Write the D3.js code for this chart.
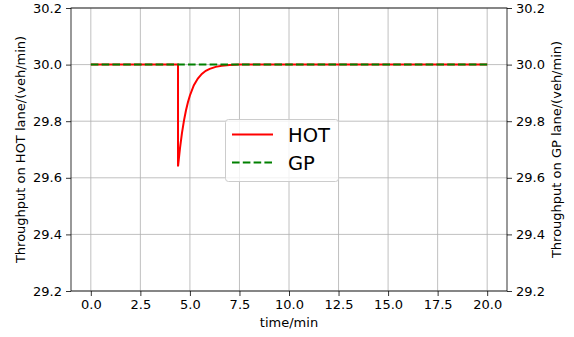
<!DOCTYPE html>
<html><head><meta charset="utf-8">
<script src="https://cdn.jsdelivr.net/npm/d3@7"></script>
<style>body{margin:0;background:#fff}svg{display:block}text{font-family:"DejaVu Sans",sans-serif}</style>
</head><body>
<script>
const xTicks = [0, 2.5, 5, 7.5, 10, 12.5, 15, 17.5, 20];
const yTicks = [29.2, 29.4, 29.6, 29.8, 30.0, 30.2];
const hotTime  = [0, 4.4, 4.4, 4.5, 4.6, 4.7, 4.8, 4.9, 5.0, 5.2, 5.4, 5.6, 5.8, 6.0, 6.3, 6.6, 7.0, 7.5, 20];
const hotValue = [30.0, 30.0, 29.64, 29.705, 29.759, 29.802, 29.838, 29.867, 29.891, 29.927, 29.951, 29.967, 29.978, 29.985, 29.992, 29.996, 29.999, 30.0, 30.0];
const gpTime  = [0, 20];
const gpValue = [30.0, 30.0];
const seriesNames = ["HOT", "GP"];

const W = 574, H = 337;
const L = 71, R = 507, T = 8, B = 291;
const svg = d3.select("body").append("svg").attr("width", W).attr("height", H);
const x = d3.scaleLinear().domain([-1, 21]).range([L, R]);
const y = d3.scaleLinear().domain([29.2, 30.2]).range([B, T]);
const fmt = d3.format(".1f");

// grid
const g = svg.append("g");
g.selectAll(".vx").data(xTicks).enter().append("line")
  .attr("x1", d => x(d)).attr("x2", d => x(d)).attr("y1", T).attr("y2", B)
  .attr("stroke", "#b0b0b0").attr("stroke-width", 0.8);
g.selectAll(".hy").data(yTicks).enter().append("line")
  .attr("x1", L).attr("x2", R).attr("y1", d => y(d)).attr("y2", d => y(d))
  .attr("stroke", "#b0b0b0").attr("stroke-width", 0.8);

// lines
const line = d3.line().x(d => x(d[0])).y(d => y(d[1]));
svg.append("path").datum(hotTime.map((t, i) => [t, hotValue[i]]))
  .attr("d", line).attr("fill", "none").attr("stroke", "#ff0000").attr("stroke-width", 2);
svg.append("path").datum(gpTime.map((t, i) => [t, gpValue[i]]))
  .attr("d", line).attr("fill", "none").attr("stroke", "#008000").attr("stroke-width", 2)
  .attr("stroke-dasharray", "7.6,3.2");

// axes
const ax = d3.axisBottom(x).tickValues(xTicks).tickFormat(fmt).tickSize(5).tickPadding(4);
const ay = d3.axisLeft(y).tickValues(yTicks).tickFormat(fmt).tickSize(5).tickPadding(4);
const ay2 = d3.axisRight(y).tickValues(yTicks).tickFormat(fmt).tickSize(5).tickPadding(4);
function style(sel) {
  sel.select(".domain").remove();
  sel.selectAll("line").attr("stroke", "#000").attr("stroke-width", 0.8);
  sel.selectAll("text").attr("font-size", 13).attr("fill", "#000").attr("font-family", "DejaVu Sans");
}
svg.append("g").attr("transform", `translate(0,${B})`).call(ax).call(style);
svg.append("g").attr("transform", `translate(${L},0)`).call(ay).call(style);
svg.append("g").attr("transform", `translate(${R},0)`).call(ay2).call(style);

// spines
svg.append("rect").attr("x", L).attr("y", T).attr("width", R - L).attr("height", B - T)
  .attr("fill", "none").attr("stroke", "#000").attr("stroke-width", 0.8);

// labels
svg.append("text").attr("x", (L + R) / 2).attr("y", 327).attr("text-anchor", "middle")
  .attr("font-size", 13).text("time/min");
svg.append("text").attr("transform", `translate(25,${(T + B) / 2}) rotate(-90)`).attr("text-anchor", "middle")
  .attr("font-size", 13).text("Throughput on HOT lane/(veh/min)");
svg.append("text").attr("transform", `translate(561,${(T + B) / 2}) rotate(-90)`).attr("text-anchor", "middle")
  .attr("font-size", 13).text("Throughput on GP lane/(veh/min)");

// legend
const lg = svg.append("g");
lg.append("rect").attr("x", 225.5).attr("y", 119.5).attr("width", 113).attr("height", 62)
  .attr("rx", 3).attr("fill", "#fff").attr("fill-opacity", 0.8).attr("stroke", "#cccccc").attr("stroke-width", 1);
lg.append("line").attr("x1", 232).attr("x2", 273).attr("y1", 134.5).attr("y2", 134.5)
  .attr("stroke", "#ff0000").attr("stroke-width", 2);
lg.append("line").attr("x1", 232).attr("x2", 273).attr("y1", 162.5).attr("y2", 162.5)
  .attr("stroke", "#008000").attr("stroke-width", 2).attr("stroke-dasharray", "7.6,3.2");
lg.append("text").attr("x", 288).attr("y", 141.5).attr("font-size", 19.5).text(seriesNames[0]);
lg.append("text").attr("x", 288).attr("y", 169.5).attr("font-size", 19.5).text(seriesNames[1]);
</script>
</body></html>
